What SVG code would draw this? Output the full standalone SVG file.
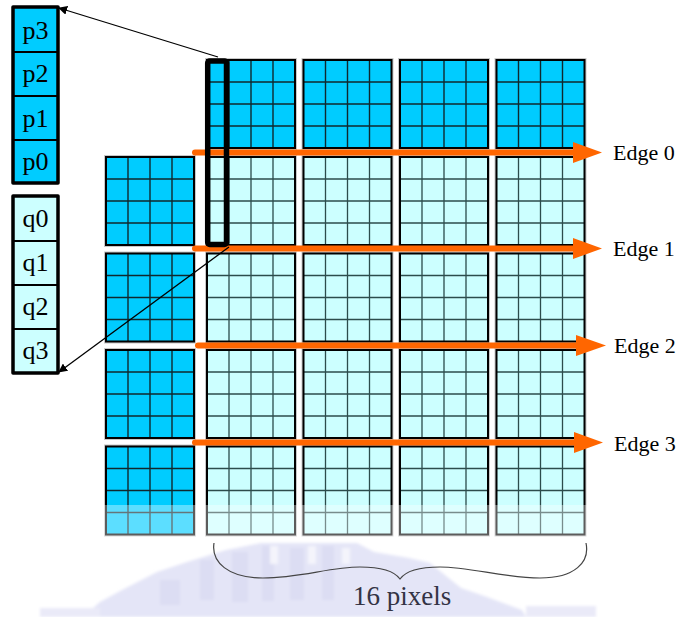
<svg xmlns="http://www.w3.org/2000/svg" xmlns:xlink="http://www.w3.org/1999/xlink" width="680" height="617" viewBox="0 0 680 617">
<style>
.dk{fill:#00ccff}
.lt{fill:#ccffff}
.gd{stroke:#10282e;stroke-width:1.4;fill:none}
.gl{stroke:#2c4c4c;stroke-width:1.3;fill:none}
.bd{fill:none;stroke:#000;stroke-width:2}
.halo{fill:none;stroke:#c8c8c8;stroke-width:4}
.edge{stroke:#ff6600;stroke-width:6;stroke-linecap:round;fill:none}
.head{fill:#ff6600}
.lbl{font-family:"Liberation Serif","Times New Roman",serif;font-size:22px;fill:#000}
.pq{font-family:"Liberation Serif","Times New Roman",serif;font-size:26px;fill:#000;text-anchor:middle}
.box{stroke:#000;stroke-width:3.5;stroke-linejoin:round}
.sep{stroke:#000;stroke-width:1.8}
.conn{stroke:#000;stroke-width:1.3;fill:none}
.wm{fill:#dcddf3}
</style>
<defs>
<g id="dblk">
<rect width="88" height="88" class="halo"/>
<rect width="88" height="88" class="dk"/>
<path d="M22 0V88M44 0V88M66 0V88M0 22H88M0 44H88M0 66H88" class="gd"/>
<rect width="88" height="88" class="bd"/>
</g>
<g id="lblk">
<rect width="88" height="88" class="halo"/>
<rect width="88" height="88" class="lt"/>
<path d="M22 0V88M44 0V88M66 0V88M0 22H88M0 44H88M0 66H88" class="gl"/>
<rect width="88" height="88" class="bd"/>
</g>
<marker id="ah" viewBox="0 0 10 10" refX="9" refY="5" markerWidth="9" markerHeight="9" markerUnits="userSpaceOnUse" orient="auto">
<path d="M0 0L10 5L0 10z" fill="#000"/>
</marker>
<filter id="blur" x="-5%" y="-20%" width="110%" height="140%"><feGaussianBlur stdDeviation="1.5"/></filter>
</defs>

<g id="watermark" filter="url(#blur)">
<polygon fill="#e4e5f7" points="83,617 100,602 122,590 157,572 187,562 226,550 261,543 357,543 374,552 409,558 430,563 461,588 487,597 522,610 526,617"/>
<rect class="wm" x="200" y="560" width="14" height="40"/>
<rect class="wm" x="232" y="552" width="16" height="50"/>
<rect class="wm" x="262" y="546" width="12" height="55"/>
<rect class="wm" x="290" y="548" width="14" height="52"/>
<rect class="wm" x="322" y="546" width="12" height="54"/>
<rect class="wm" x="160" y="580" width="20" height="25"/>
<rect x="40" y="608" width="60" height="9" fill="#eaeaf8"/>
<rect x="526" y="606" width="70" height="11" fill="#eaeaf8"/>
<rect x="270" y="546" width="8" height="18" fill="#f4f4fb"/>
<rect x="308" y="546" width="8" height="18" fill="#f4f4fb"/>
<rect x="342" y="548" width="8" height="16" fill="#f4f4fb"/>
</g>

<g id="row-top">
<use xlink:href="#dblk" x="207" y="60"/>
<use xlink:href="#dblk" x="303.5" y="60"/>
<use xlink:href="#dblk" x="400" y="60"/>
<use xlink:href="#dblk" x="496.5" y="60"/>
</g>
<g id="col-left">
<use xlink:href="#dblk" x="106" y="157"/>
<use xlink:href="#dblk" x="106" y="253.5"/>
<use xlink:href="#dblk" x="106" y="350"/>
<use xlink:href="#dblk" x="106" y="446.5"/>
</g>
<g id="mb-row1">
<use xlink:href="#lblk" x="207" y="157"/>
<use xlink:href="#lblk" x="303.5" y="157"/>
<use xlink:href="#lblk" x="400" y="157"/>
<use xlink:href="#lblk" x="496.5" y="157"/>
</g>
<g id="mb-row2">
<use xlink:href="#lblk" x="207" y="253.5"/>
<use xlink:href="#lblk" x="303.5" y="253.5"/>
<use xlink:href="#lblk" x="400" y="253.5"/>
<use xlink:href="#lblk" x="496.5" y="253.5"/>
</g>
<g id="mb-row3">
<use xlink:href="#lblk" x="207" y="350"/>
<use xlink:href="#lblk" x="303.5" y="350"/>
<use xlink:href="#lblk" x="400" y="350"/>
<use xlink:href="#lblk" x="496.5" y="350"/>
</g>
<g id="mb-row4">
<use xlink:href="#lblk" x="207" y="446.5"/>
<use xlink:href="#lblk" x="303.5" y="446.5"/>
<use xlink:href="#lblk" x="400" y="446.5"/>
<use xlink:href="#lblk" x="496.5" y="446.5"/>
</g>
<rect id="fade" x="102" y="505" width="487" height="34" fill="#ffffff" opacity="0.36"/>

<g id="edge0">
<line x1="195" y1="152.5" x2="578" y2="152.5" class="edge"/>
<polygon class="head" points="573,142 602,152.5 573,163"/>
<text x="613" y="160" class="lbl">Edge 0</text>
</g>
<g id="edge1">
<line x1="195" y1="248.5" x2="578" y2="248.5" class="edge"/>
<polygon class="head" points="573,238 602,248.5 573,259"/>
<text x="613" y="256" class="lbl">Edge 1</text>
</g>
<g id="edge2">
<line x1="198" y1="345.5" x2="580" y2="345.5" class="edge"/>
<polygon class="head" points="576,335 606,345.5 576,356"/>
<text x="614" y="353" class="lbl">Edge 2</text>
</g>
<g id="edge3">
<line x1="195" y1="442.5" x2="578" y2="442.5" class="edge"/>
<polygon class="head" points="574,432 603,442.5 574,453"/>
<text x="614" y="451" class="lbl">Edge 3</text>
</g>

<g id="selection">
<rect x="207.7" y="61" width="18.8" height="183.5" rx="2" fill="none" stroke="#000" stroke-width="5.5"/>
</g>

<g id="p-column">
<rect x="13" y="7" width="45" height="176" class="box" fill="#00ccff"/>
<line x1="13" y1="52" x2="58" y2="52" class="sep"/>
<line x1="13" y1="96" x2="58" y2="96" class="sep"/>
<line x1="13" y1="140" x2="58" y2="140" class="sep"/>
<text x="35.5" y="39" class="pq">p3</text>
<text x="35.5" y="82" class="pq">p2</text>
<text x="35.5" y="126.5" class="pq">p1</text>
<text x="35.5" y="170" class="pq">p0</text>
</g>
<g id="q-column">
<rect x="13" y="196" width="45" height="177" class="box" fill="#ccffff"/>
<line x1="13" y1="241" x2="58" y2="241" class="sep"/>
<line x1="13" y1="285" x2="58" y2="285" class="sep"/>
<line x1="13" y1="329" x2="58" y2="329" class="sep"/>
<text x="35.5" y="227" class="pq">q0</text>
<text x="35.5" y="271" class="pq">q1</text>
<text x="35.5" y="315" class="pq">q2</text>
<text x="35.5" y="358.5" class="pq">q3</text>
</g>

<g id="connectors">
<line x1="218" y1="57" x2="59" y2="8" class="conn" marker-end="url(#ah)"/>
<line x1="229" y1="247" x2="59" y2="372" class="conn" marker-end="url(#ah)"/>
</g>

<g id="brace">
<path d="M214,543 C211,562 228,578 263,578 C300,578 330,567 360,567 C385,567 395,572 400,579 C405,572 415,567 440,567 C470,567 505,578 540,578 C575,578 590,562 586,543" fill="none" stroke="#444" stroke-width="1.2"/>
<text x="353" y="605" font-family="'Liberation Serif','Times New Roman',serif" font-size="27" fill="#333344">16 pixels</text>
</g>
</svg>
